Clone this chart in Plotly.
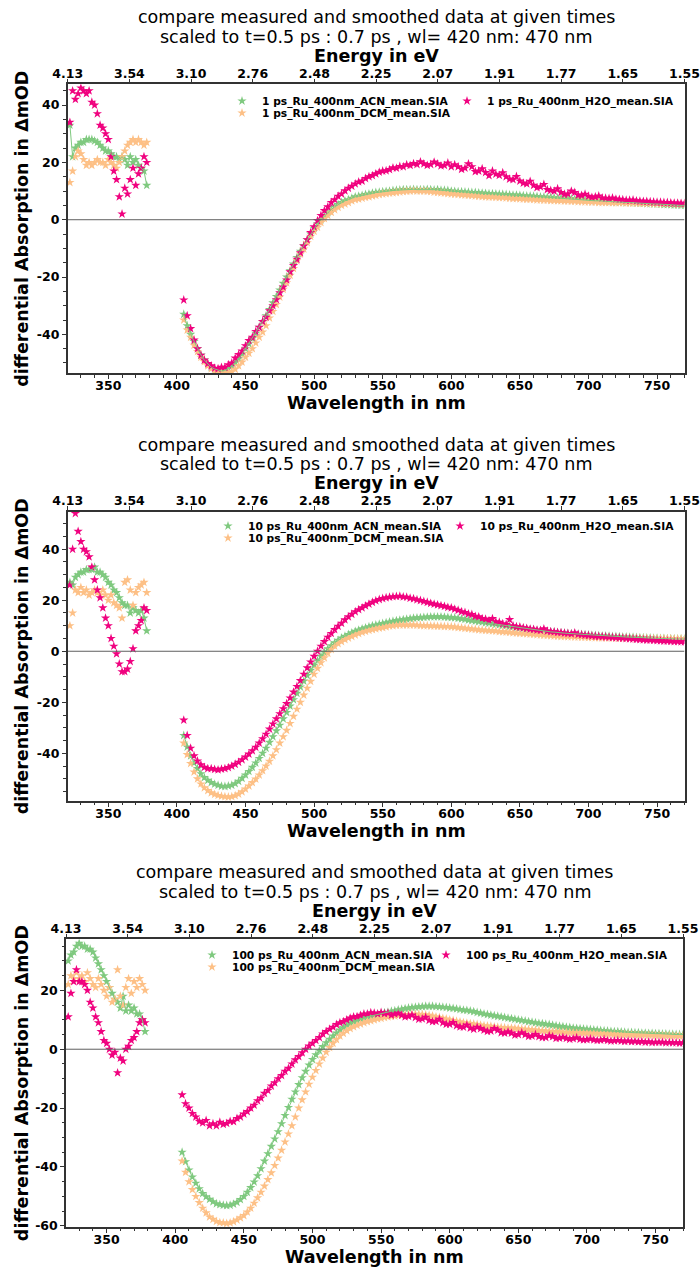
import plotly.graph_objects as go

# ---------------- data ----------------
# probe wavelengths (nm): UV part before the pump-scatter gap, visible part after it
wl_uv = [322, 324, 326, 328, 330, 332, 334, 336, 338, 340,
         342, 344, 346, 348, 350, 352, 354, 356, 358, 360,
         362, 364, 366, 368, 370, 372, 374, 376, 378]
wl_vis = [405, 407.5, 410, 412.5, 415, 417.5, 420, 422.5, 425, 427.5,
          430, 432.5, 435, 437.5, 440, 442.5, 445, 447.5, 450, 452.5,
          455, 457.5, 460, 462.5, 465, 467.5, 470, 472.5, 475, 477.5,
          480, 482.5, 485, 487.5, 490, 492.5, 495, 497.5, 500, 502.5,
          505, 507.5, 510, 512.5, 515, 517.5, 520, 522.5, 525, 527.5,
          530, 532.5, 535, 537.5, 540, 542.5, 545, 547.5, 550, 552.5,
          555, 557.5, 560, 562.5, 565, 567.5, 570, 572.5, 575, 577.5,
          580, 582.5, 585, 587.5, 590, 592.5, 595, 597.5, 600, 602.5,
          605, 607.5, 610, 612.5, 615, 617.5, 620, 622.5, 625, 627.5,
          630, 632.5, 635, 637.5, 640, 642.5, 645, 647.5, 650, 652.5,
          655, 657.5, 660, 662.5, 665, 667.5, 670, 672.5, 675, 677.5,
          680, 682.5, 685, 687.5, 690, 692.5, 695, 697.5, 700, 702.5,
          705, 707.5, 710, 712.5, 715, 717.5, 720, 722.5, 725, 727.5,
          730, 732.5, 735, 737.5, 740, 742.5, 745, 747.5, 750, 752.5,
          755, 757.5, 760, 762.5, 765, 767.5, 770]

wl_ticks = [350, 400, 450, 500, 550, 600, 650, 700, 750]
energy_labels = ["4.13", "3.54", "3.10", "2.76", "2.48", "2.25",
                 "2.07", "1.91", "1.77", "1.65", "1.55"]

delays = ["1 ps", "10 ps", "100 ps"]
solvents = ["ACN", "DCM", "H2O"]
colors = {"ACN": "#7fc97f", "DCM": "#fdc086", "H2O": "#f0027f"}

# ---- 1 ps ----
acn_1ps_uv = [33, 22, 25, 26, 27, 27, 28, 28, 28, 27.5,
              27, 26, 25, 24, 24, 23, 22, 22, 21, 22,
              21, 19, 22, 20, 21, 19, 18, 17, 12]
dcm_1ps_uv = [13, 17, 22, 24, 23, 21, 19, 20, 19, 20,
              21, 20, 20, 19, 21, 20, 19, 18, 20, 22,
              24, 26, 27, 28, 27, 28, 27, 26, 27]
h2o_1ps_uv = [34, 45, 42, 44, 46, 45, 44, 45, 41, 40,
              37, 33, 32, 30, 28, 22, 17, 14, 8, 2,
              11, 9, 14, 18, 12, 16, 18, 22, 20]
acn_1ps_vis = [-33, -37, -40, -42.5, -45, -47.2, -49, -50.4, -51.5, -52.1,
               -52.5, -52.8, -52.5, -51.9, -51, -49.9, -48.5, -46.9, -45, -43.3,
               -41.5, -39.6, -37.5, -35.6, -33.5, -31.3, -29, -26.8, -24.5, -22.2,
               -20, -17.8, -15.5, -13.2, -11, -9, -7, -5, -3, -1.4,
               0, 1.3, 2.5, 3.6, 4.5, 5.3, 6, 6.6, 7, 7.5,
               8, 8.2, 8.5, 8.8, 9, 9.3, 9.5, 9.6, 9.8, 9.9,
               10, 10.2, 10.3, 10.4, 10.5, 10.5, 10.5, 10.6, 10.5, 10.5,
               10.5, 10.6, 10.5, 10.4, 10.5, 10.3, 10.3, 10.2, 10, 9.9,
               9.8, 9.8, 9.7, 9.6, 9.5, 9.5, 9.4, 9.3, 9.2, 9.1,
               9.1, 9, 8.9, 8.9, 8.8, 8.7, 8.6, 8.6, 8.5, 8.4,
               8.3, 8.3, 8.2, 8.1, 8, 7.9, 7.8, 7.8, 7.7, 7.6,
               7.5, 7.4, 7.3, 7.3, 7.2, 7.1, 7, 6.9, 6.8, 6.7,
               6.6, 6.6, 6.5, 6.4, 6.3, 6.3, 6.2, 6.1, 6.1, 6,
               6, 5.9, 5.8, 5.8, 5.7, 5.6, 5.6, 5.5, 5.5, 5.4,
               5.3, 5.3, 5.2, 5.1, 5.1, 5, 5]
dcm_1ps_vis = [-35, -38.5, -41, -43.8, -46, -48, -49.5, -51, -52, -52.8,
               -53, -53.6, -53.5, -53.4, -53, -52.2, -51, -49.7, -48, -46.6,
               -45, -43, -41, -39.2, -37, -34.3, -32, -29.6, -27, -24.3,
               -22, -19.4, -17, -14.3, -12, -10.2, -8, -5.8, -4, -2.6,
               -1, 0.4, 1.5, 2.6, 3.5, 4.3, 5, 5.5, 6, 6.6,
               7, 7.2, 7.5, 7.8, 8, 8.3, 8.5, 8.8, 9, 9.1,
               9.3, 9.4, 9.5, 9.7, 9.8, 9.9, 10, 10.1, 10, 10,
               10, 9.9, 9.8, 9.6, 9.5, 9.4, 9.3, 9.1, 9, 8.9,
               8.8, 8.7, 8.6, 8.5, 8.4, 8.3, 8.2, 8.1, 8, 7.9,
               7.9, 7.8, 7.7, 7.7, 7.6, 7.5, 7.4, 7.4, 7.3, 7.2,
               7.1, 7.1, 7, 6.9, 6.9, 6.8, 6.8, 6.7, 6.7, 6.6,
               6.6, 6.5, 6.5, 6.4, 6.4, 6.3, 6.3, 6.2, 6.2, 6.1,
               6.1, 6, 6, 6, 6, 5.9, 5.9, 5.9, 5.9, 5.8,
               5.8, 5.8, 5.8, 5.7, 5.7, 5.7, 5.7, 5.6, 5.6, 5.6,
               5.6, 5.6, 5.6, 5.5, 5.5, 5.5, 5.5]
h2o_1ps_vis = [-28, -33.5, -38, -42, -45, -47.3, -49, -50.2, -51, -51.8,
               -52, -51.5, -51.5, -50.6, -50, -48.3, -47, -45.8, -44, -42.2,
               -41, -39, -37.5, -35.5, -34, -31.8, -30, -27.9, -25.5, -23.5,
               -21, -18.2, -16, -13.8, -11.5, -9.2, -7, -4.5, -2.5, -0.3,
               1.5, 3.2, 4.5, 6, 7, 8.2, 9, 10.1, 11, 11.7,
               12.5, 13.2, 13.5, 14.4, 15, 15.4, 16, 16.6, 17, 17.1,
               17.5, 18.1, 18, 18.6, 18.5, 19.2, 19, 19.6, 19.3, 20.2,
               19.5, 19, 19.3, 20.1, 19.5, 18.8, 19, 19.8, 18.5, 19.2,
               18.5, 17.6, 18, 19.5, 18.5, 16.8, 17, 17.8, 16.5, 15.4,
               17, 15.9, 15.5, 16.4, 15, 14.2, 14, 15.1, 13.5, 12.8,
               12.5, 13.4, 12, 11.2, 11.5, 12.3, 10.5, 10.2, 10, 10.8,
               9.5, 8.9, 9, 10, 9.5, 8.6, 8.5, 8.9, 8.2, 7.8,
               8, 8.3, 7.6, 7.5, 7.4, 7.6, 7.2, 7.1, 7, 6.8,
               6.8, 6.9, 6.6, 6.5, 6.4, 6.4, 6.3, 6.2, 6.1, 6.1,
               6, 6, 5.9, 5.8, 5.8, 5.7, 5.7]

# ---- 10 ps ----
acn_10ps_uv = [27, 26, 29, 30, 31, 31, 32, 32, 32, 33,
               31, 31, 30, 29, 27, 26, 24, 23, 21, 19,
               18, 18, 15, 17, 16, 15, 16, 13, 8]
dcm_10ps_uv = [10, 15, 24, 23, 25, 23, 24, 22, 23, 24,
               23, 22, 24, 22, 20, 22, 19, 18, 17, 13,
               27, 28, 24, 18, 23, 25, 26, 27, 23]
h2o_10ps_uv = [26, 40, 54, 47, 43, 40, 39, 37, 33, 28,
               24, 21, 17, 13, 10, 5, 2, -1, -5, -8,
               -8, -7, -4, 1, 8, 10, 12, 17, 16]
acn_10ps_vis = [-33, -37.5, -41, -43.8, -46, -48, -49.5, -50.6, -51.5, -52.1,
                -52.5, -52.9, -53, -52.8, -52.5, -51.9, -51, -49.8, -48.5, -47.1,
                -45.5, -43.8, -42, -40, -38, -35.7, -33.5, -31.2, -29, -26.5,
                -24, -21.5, -19, -16.5, -14, -11.7, -9.5, -7.5, -5.5, -3.7,
                -2, -0.4, 1, 2.2, 3.3, 4.3, 5.2, 5.9, 6.6, 7.2,
                7.8, 8.3, 8.8, 9.2, 9.6, 10, 10.3, 10.6, 10.9, 11.2,
                11.5, 11.8, 12, 12.2, 12.4, 12.6, 12.8, 13, 13.1, 13.2,
                13.3, 13.4, 13.5, 13.5, 13.5, 13.5, 13.4, 13.3, 13.2, 13.1,
                12.9, 12.7, 12.5, 12.2, 12, 11.8, 11.6, 11.4, 11.2, 11,
                10.8, 10.6, 10.4, 10.2, 10, 9.8, 9.6, 9.4, 9.2, 9,
                8.8, 8.6, 8.4, 8.2, 8.1, 7.9, 7.8, 7.6, 7.5, 7.3,
                7.2, 7.1, 7, 6.9, 6.8, 6.7, 6.6, 6.5, 6.4, 6.3,
                6.2, 6.1, 6, 6, 5.9, 5.8, 5.8, 5.7, 5.6, 5.6,
                5.5, 5.5, 5.4, 5.3, 5.3, 5.2, 5.2, 5.1, 5.1, 5,
                5, 4.9, 4.9, 4.8, 4.8, 4.8, 4.8]
dcm_10ps_vis = [-36, -40.5, -44, -47.3, -50, -52, -53.5, -54.6, -55.5, -56.1,
                -56.5, -56.8, -57, -57.1, -57, -56.6, -56, -55.1, -54, -52.8,
                -51.5, -50.1, -48.5, -46.8, -45, -43.1, -41, -38.6, -36, -33.5,
                -31, -28.3, -25.5, -22.7, -20, -17.2, -14.5, -11.8, -9, -6.7,
                -4.5, -2.6, -0.8, 0.7, 2, 3, 3.8, 4.6, 5.2, 5.8,
                6.4, 6.9, 7.4, 7.8, 8.2, 8.5, 8.8, 9.1, 9.3, 9.6,
                9.9, 10, 10.2, 10.3, 10.3, 10.3, 10.3, 10.3, 10.2, 10.1,
                10, 10, 9.9, 9.9, 9.8, 9.8, 9.7, 9.7, 9.6, 9.5,
                9.3, 9.2, 9, 8.9, 8.7, 8.6, 8.4, 8.3, 8.2, 8.1,
                8, 7.9, 7.7, 7.6, 7.5, 7.4, 7.2, 7.1, 7, 6.9,
                6.8, 6.7, 6.6, 6.5, 6.4, 6.3, 6.2, 6.1, 6, 5.9,
                5.8, 5.8, 5.7, 5.7, 5.6, 5.6, 5.5, 5.5, 5.4, 5.4,
                5.3, 5.3, 5.2, 5.2, 5.2, 5.2, 5.1, 5.1, 5.1, 5.1,
                5, 5, 5, 5, 5, 5, 4.9, 4.9, 4.9, 4.9,
                4.9, 4.9, 4.9, 4.8, 4.8, 4.8, 4.8]
h2o_10ps_vis = [-27, -33, -38, -41, -43, -44.5, -45.5, -46, -46, -46.3,
                -46.5, -46.2, -46, -45.6, -45, -44.3, -43.5, -42.5, -41.5, -40.3,
                -39, -37.6, -36, -34.3, -32.5, -30.5, -28.5, -26.5, -24.5, -22.5,
                -20.5, -18.3, -16, -13.8, -11.5, -9, -6.5, -4.2, -2, 0,
                2, 3.8, 5.5, 7, 8.5, 9.8, 11, 12.3, 13.5, 14.5,
                15.5, 16.3, 17, 17.8, 18.5, 19.2, 19.8, 20.3, 20.7, 21,
                21.2, 21.4, 21.5, 21.6, 21.3, 21.2, 20.8, 20.6, 20.2, 19.9,
                19.5, 19.2, 18.8, 18.5, 18.2, 17.9, 17.6, 17.2, 17, 16.5,
                16.1, 15.5, 15.2, 14.6, 14.4, 13.7, 13.5, 12.8, 12.6, 12,
                12.8, 11.6, 11.4, 10.8, 10.5, 12.4, 10, 9.6, 9.5, 9.2,
                9, 8.7, 8.6, 8.3, 8.2, 8.8, 7.9, 7.7, 7.6, 7.4,
                7.3, 7.1, 7, 6.8, 7.2, 6.6, 6.5, 6.3, 6.2, 6,
                5.9, 5.8, 5.7, 5.6, 5.5, 5.4, 5.3, 5.2, 5.1, 5,
                4.9, 4.8, 4.7, 4.6, 4.5, 4.4, 4.4, 4.3, 4.2, 4.1,
                4, 4, 3.9, 3.8, 3.8, 3.7, 3.7]

# ---- 100 ps ----
acn_100ps_uv = [30, 32, 33, 35, 36, 35, 35, 34, 34, 33,
                31, 29, 27, 25, 23, 21, 19, 17, 16, 14,
                18, 13, 15, 13, 14, 12, 12, 10, 6]
dcm_100ps_uv = [22, 25, 24, 26, 24, 25, 23, 26, 24, 22,
                21, 24, 22, 20, 18, 21, 16, 17, 27, 18,
                15, 21, 24, 19, 23, 21, 24, 22, 20]
h2o_100ps_uv = [11, 19, 23, 27, 23, 23, 22, 20, 16, 14,
                11, 9, 6, 3, 2, 0, -2, -1, -8, -3,
                -4, 0, 1, 3, 4, 6, 9, 10, 9]
acn_100ps_vis = [-35, -38.2, -41, -43.4, -45.5, -47.4, -49, -50.1, -51, -51.8,
                 -52.5, -52.8, -53, -53.1, -53, -52.6, -52, -51.1, -50, -48.6,
                 -47, -45.1, -43, -40.6, -38, -35.5, -33, -30.5, -28, -25.3,
                 -22.5, -19.8, -17, -14.5, -12, -9.7, -7.5, -5.4, -3.5, -1.9,
                 -0.5, 0.9, 2.2, 3.4, 4.5, 5.5, 6.5, 7.3, 8, 8.7,
                 9.3, 9.8, 10.3, 10.7, 11, 11.3, 11.6, 11.9, 12.1, 12.4,
                 12.6, 12.9, 13.1, 13.4, 13.6, 13.8, 14, 14.2, 14.3, 14.4,
                 14.5, 14.6, 14.6, 14.6, 14.5, 14.4, 14.3, 14.2, 14, 13.9,
                 13.7, 13.5, 13.3, 13.2, 13, 12.8, 12.5, 12.3, 12, 11.8,
                 11.6, 11.4, 11.2, 11, 10.8, 10.6, 10.4, 10.2, 10, 9.8,
                 9.6, 9.4, 9.2, 9, 8.8, 8.7, 8.5, 8.4, 8.2, 8,
                 7.8, 7.7, 7.5, 7.4, 7.2, 7.1, 7, 6.9, 6.8, 6.7,
                 6.6, 6.5, 6.4, 6.3, 6.2, 6.1, 6, 6, 5.9, 5.8,
                 5.7, 5.7, 5.6, 5.6, 5.5, 5.5, 5.4, 5.4, 5.3, 5.3,
                 5.2, 5.2, 5.1, 5.1, 5, 5, 5]
dcm_100ps_vis = [-38, -41.8, -45, -47.7, -50, -52.1, -54, -55.6, -57, -57.8,
                 -58.5, -58.9, -59, -59.2, -59, -58.6, -58, -57.3, -56.5, -55.3,
                 -54, -52.3, -50.5, -48.6, -46.5, -44.3, -42, -39.5, -37, -34.3,
                 -31.5, -28.8, -26, -23, -20, -17.2, -14.5, -11.9, -9.5, -7.2,
                 -5, -3, -1, 0.6, 2, 3.3, 4.5, 5.4, 6.3, 7,
                 7.6, 8.1, 8.6, 9, 9.4, 9.7, 10, 10.3, 10.5, 10.8,
                 11, 11.2, 11.3, 11.5, 11.6, 11.7, 11.8, 11.9, 11.9, 11.9,
                 11.8, 11.7, 11.5, 11.3, 11, 10.8, 10.5, 10.3, 10, 9.8,
                 9.5, 9.3, 9, 8.9, 8.7, 8.6, 8.4, 8.2, 8, 7.9,
                 7.8, 7.6, 7.5, 7.4, 7.3, 7.2, 7.2, 7.1, 7, 6.9,
                 6.8, 6.7, 6.6, 6.5, 6.4, 6.3, 6.2, 6.1, 6, 6,
                 5.9, 5.8, 5.8, 5.7, 5.7, 5.6, 5.6, 5.5, 5.5, 5.4,
                 5.4, 5.3, 5.3, 5.2, 5.2, 5.1, 5.1, 5, 5, 5,
                 5, 4.9, 4.9, 4.8, 4.8, 4.8, 4.8, 4.7, 4.7, 4.7,
                 4.6, 4.6, 4.6, 4.5, 4.5, 4.5, 4.5]
h2o_100ps_vis = [-15.5, -18.5, -20, -21.8, -23, -24.5, -25, -24.2, -26, -25.3,
                 -26, -24.8, -25.5, -25.2, -24.5, -24.6, -23.5, -23, -22, -21.2,
                 -20, -19, -17.5, -16.6, -15, -14, -12.5, -11.4, -10, -8.9,
                 -7.5, -6.5, -5, -3.6, -2.5, -1.2, 0, 1.1, 2, 3,
                 4, 5.2, 6, 6.8, 7.5, 8.4, 9, 9.4, 10, 10.6,
                 11, 11.1, 11.5, 12, 12, 12.4, 12.3, 12, 12.5, 12.1,
                 12.3, 11.6, 12, 12.2, 11.6, 11, 11.2, 11.6, 10.8, 10.2,
                 10.3, 10.9, 9.8, 9.4, 9.5, 10.2, 9, 8.5, 8.5, 9.1,
                 8, 7.6, 7.5, 8.2, 7.2, 6.8, 7.5, 7, 6.5, 6.1,
                 6.2, 7, 6.5, 5.6, 5.5, 5.9, 5.5, 4.8, 5, 5.6,
                 5, 4.4, 4.5, 5, 4.3, 4, 4, 4.6, 4.3, 3.7,
                 3.8, 4.1, 3.7, 3.4, 3.6, 3.9, 3.4, 3.2, 3.3, 3.5,
                 3.2, 3, 3.1, 3.3, 3, 2.8, 2.9, 3, 2.8, 2.7,
                 2.8, 2.6, 2.7, 2.5, 2.6, 2.4, 2.5, 2.3, 2.4, 2.4,
                 2.4, 2.2, 2.3, 2.2, 2.2, 2.1, 2.2]

series = {
    "1 ps": {"ACN": (acn_1ps_uv, acn_1ps_vis),
             "DCM": (dcm_1ps_uv, dcm_1ps_vis),
             "H2O": (h2o_1ps_uv, h2o_1ps_vis)},
    "10 ps": {"ACN": (acn_10ps_uv, acn_10ps_vis),
              "DCM": (dcm_10ps_uv, dcm_10ps_vis),
              "H2O": (h2o_10ps_uv, h2o_10ps_vis)},
    "100 ps": {"ACN": (acn_100ps_uv, acn_100ps_vis),
               "DCM": (dcm_100ps_uv, dcm_100ps_vis),
               "H2O": (h2o_100ps_uv, h2o_100ps_vis)},
}
for per_delay in series.values():
    for uv, vis in per_delay.values():
        assert len(uv) == len(wl_uv) and len(vis) == len(wl_vis)

y_ticks = {"1 ps": [-40, -20, 0, 20, 40],
           "10 ps": [-40, -20, 0, 20, 40],
           "100 ps": [-60, -40, -20, 0, 20]}

# ---------------- layout geometry (pixels) ----------------
W, H = 700, 1268
FONT = "DejaVu Sans"
AX = "#333333"
panels = [
    dict(left=67.7, right=684.5, top=84.3, bottom=373.3, yrange=[-53.6, 47.26],
         leg_rows=[101, 113], leg_cols=[262, 487]),
    dict(left=67.7, right=684.5, top=511.7, bottom=801, yrange=[-58.7, 54.7],
         leg_rows=[526, 538], leg_cols=[248, 480]),
    dict(left=66, right=683, top=939.3, bottom=1227, yrange=[-60.4, 37.35],
         leg_rows=[955, 967], leg_cols=[232, 466]),
]
# legend slot of each solvent: (column, row)
legend_slot = {"ACN": (0, 0), "DCM": (0, 1), "H2O": (1, 0)}

title_lines = ["compare measured and smoothed data at given times",
               "scaled to t=0.5 ps : 0.7 ps , wl= 420 nm: 470 nm"]

tick_font = dict(family=FONT, size=12.5, color="black", weight="bold")
label_font = dict(family=FONT, size=17.5, color="black", weight="bold")
legend_font = dict(family=FONT, size=10.7, color="black", weight="bold")
title_font = dict(family=FONT, size=17.5, color="black")

fig = go.Figure()
layout = dict(width=W, height=H, margin=dict(l=0, r=0, t=0, b=0),
              paper_bgcolor="white", plot_bgcolor="white", showlegend=True)
annotations = []

for i, (delay, p) in enumerate(zip(delays, panels)):
    n = i + 1
    xa = "x" if n == 1 else f"x{n}"
    ya = "y" if n == 1 else f"y{n}"
    xt = f"x{n + 3}"

    # horizontal reference line at zero, spanning the top (energy) axis
    fig.add_trace(go.Scatter(x=[0, len(energy_labels) - 1], y=[0, 0],
                             xaxis=xt, yaxis=ya, mode="lines",
                             line=dict(color="#5f5f5f", width=1),
                             showlegend=False, hoverinfo="skip"))

    for j, solv in enumerate(solvents):
        uv, vis = series[delay][solv]
        xs = wl_uv + [None] + wl_vis
        ys = uv + [None] + vis
        k = 3 * i + j + 1
        leg = "legend" if k == 1 else f"legend{k}"
        fig.add_trace(go.Scatter(
            x=xs, y=ys, xaxis=xa, yaxis=ya, mode="markers",
            name=f"{delay}_Ru_400nm_{solv}_mean.SIA", legend=leg,
            marker=dict(symbol="star", size=7, color=colors[solv],
                        line=dict(width=0))))
        col, row = legend_slot[solv]
        layout[leg] = dict(
            x=(p["leg_cols"][col] - 40) / W, y=1 - p["leg_rows"][row] / H,
            xanchor="left", yanchor="middle", bgcolor="rgba(0,0,0,0)",
            borderwidth=0, font=legend_font, itemwidth=30,
            xref="paper", yref="paper")

    # smoothed ACN trace drawn as a thin line
    uv, vis = series[delay]["ACN"]
    fig.add_trace(go.Scatter(x=wl_uv + [None] + wl_vis, y=uv + [None] + vis,
                             xaxis=xa, yaxis=ya, mode="lines",
                             line=dict(color=colors["ACN"], width=1),
                             showlegend=False, hoverinfo="skip"))

    dom_x = [p["left"] / W, p["right"] / W]
    dom_y = [1 - p["bottom"] / H, 1 - p["top"] / H]
    axis_common = dict(showgrid=False, zeroline=False, showline=True,
                       linecolor=AX, linewidth=1.5, ticks="outside",
                       ticklen=4, tickwidth=1.2, tickcolor=AX,
                       tickfont=tick_font, automargin=False,
                       ticklabeloverflow="allow")
    layout["xaxis" if n == 1 else f"xaxis{n}"] = dict(
        axis_common, domain=dom_x, anchor=ya, range=[320.4, 770],
        tickmode="array", tickvals=wl_ticks, ticklabelstandoff=-4,
        minor=dict(tickmode="linear", tick0=350, dtick=10, ticks="outside",
                   ticklen=2.5, tickcolor=AX))
    layout[f"xaxis{n + 3}"] = dict(
        axis_common, overlaying=xa, anchor=ya, side="top",
        range=[0, len(energy_labels) - 1], tickmode="array",
        tickvals=list(range(len(energy_labels))), ticktext=energy_labels,
        ticklabelstandoff=-4)
    yt = y_ticks[delay]
    layout["yaxis" if n == 1 else f"yaxis{n}"] = dict(
        axis_common, domain=dom_y, anchor=xa, range=p["yrange"], mirror=True,
        tickmode="array", tickvals=yt, ticktext=[str(v) for v in yt],
        minor=dict(tickmode="linear", tick0=0, dtick=5, ticks="outside",
                   ticklen=2.5, tickcolor=AX))

    cx = (p["left"] + p["right"]) / 2 / W
    for line_text, off in zip(title_lines, (67, 47.5)):
        annotations.append(dict(text=line_text, x=cx, y=1 - (p["top"] - off) / H,
                                xanchor="center", yanchor="middle",
                                showarrow=False, font=title_font))
    annotations += [
        dict(text="Energy in eV", x=cx, y=1 - (p["top"] - 28.5) / H,
             xanchor="center", yanchor="middle", showarrow=False,
             font=label_font),
        dict(text="Wavelength in nm", x=cx, y=1 - (p["bottom"] + 30) / H,
             xanchor="center", yanchor="middle", showarrow=False,
             font=label_font),
        dict(text="differential Absorption in ΔmOD", x=22 / W,
             y=1 - (p["top"] + p["bottom"]) / 2 / H, textangle=-90,
             xanchor="center", yanchor="middle", showarrow=False,
             font=label_font),
    ]

for a in annotations:
    a.update(xref="paper", yref="paper")
layout["annotations"] = annotations
fig.update_layout(**layout)
fig.write_html("out.html")
